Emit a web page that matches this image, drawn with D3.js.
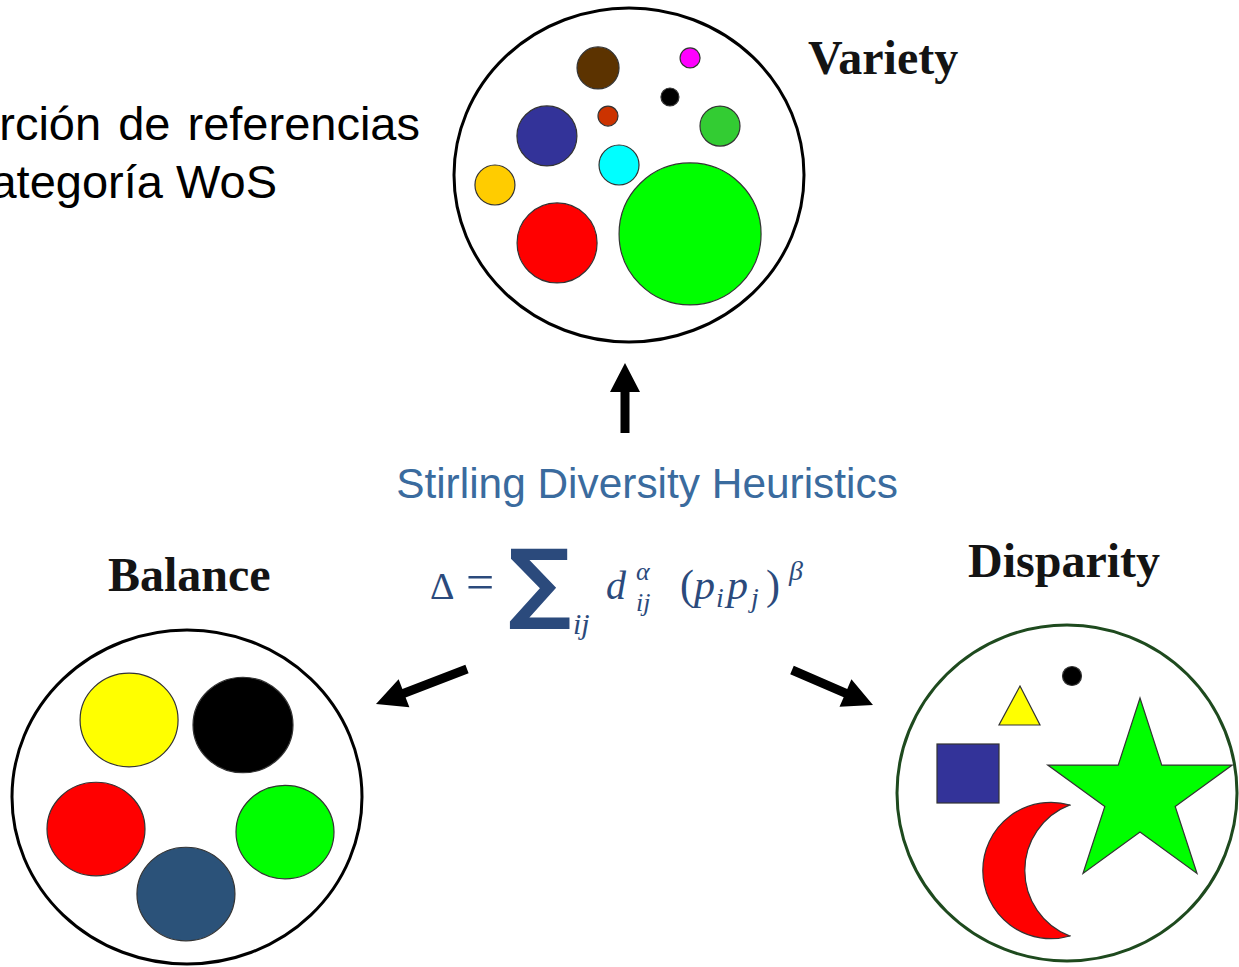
<!DOCTYPE html>
<html>
<head>
<meta charset="utf-8">
<script src="https://cdn.jsdelivr.net/npm/d3@7"></script>
<style>
  html, body { margin: 0; padding: 0; background: #fff; }
  svg { display: block; }
</style>
</head>
<body>
<svg id="chart" width="1239" height="967"></svg>
<script>
// ---------- data ----------
const panelTitles = ["Variety", "Balance", "Disparity"];
const headerLines = ["rción de referencias", "ategoría WoS"];
const centerLabel = "Stirling Diversity Heuristics";

// Variety: many categories of unequal size
const varietyColors = ["#5C3300", "#FF00FF", "#000000", "#CC3300", "#333399", "#33CC33", "#00FFFF", "#FFCC00", "#FF0000", "#00FF00"];
const varietySizes  = [21, 10, 9, 10, 30, 20, 20, 20, 40, 71];
// Balance: five equally sized categories
const balanceColors = ["#FFFF00", "#000000", "#FF0000", "#00FF00", "#2B5279"];
const balanceSizes  = [49, 50, 49, 49, 49];
// Disparity: different kinds of shapes
const disparityKinds  = ["dot", "triangle", "square", "star", "moon"];
const disparityColors = ["#000000", "#FFFF00", "#333399", "#00FF00", "#FF0000"];

// ---------- layout (normalised positions inside each panel, -1..1) ----------
const varietyPos = [[-0.177,-0.641],[0.349,-0.701],[0.234,-0.467],[-0.120,-0.353],[-0.469,-0.234],[0.520,-0.293],[-0.057,-0.060],[-0.766,0.060],[-0.411,0.407],[0.349,0.353]];
const balancePos = [[-0.331,-0.461],[0.320,-0.431],[-0.520,0.192],[0.560,0.210],[-0.006,0.581]];

const svg = d3.select("#chart");

function panel(cx, cy, rx, ry) {
  return {
    x: d3.scaleLinear().domain([-1, 1]).range([cx - rx, cx + rx]),
    y: d3.scaleLinear().domain([-1, 1]).range([cy - ry, cy + ry]),
    cx, cy, rx, ry
  };
}

// ---------- header text (clipped at left, as in the source) ----------
svg.append("g").selectAll("text").data(headerLines).join("text")
  .attr("x", (d, i) => i === 0 ? 420 : 277)
  .attr("y", (d, i) => 140 + i * 58)
  .attr("text-anchor", "end")
  .attr("word-spacing", (d, i) => i === 0 ? 4 : 0)
  .attr("font-family", "Liberation Sans, Arial, sans-serif")
  .attr("font-size", 47)
  .attr("fill", "#000")
  .text(d => d);

// ---------- Variety ----------
const pv = panel(629, 175, 175, 167);
svg.append("ellipse").attr("cx", pv.cx).attr("cy", pv.cy).attr("rx", pv.rx).attr("ry", pv.ry)
  .attr("fill", "#fff").attr("stroke", "#000").attr("stroke-width", 3);
svg.append("g").selectAll("circle").data(varietyColors).join("circle")
  .attr("cx", (d, i) => pv.x(varietyPos[i][0]))
  .attr("cy", (d, i) => pv.y(varietyPos[i][1]))
  .attr("r", (d, i) => varietySizes[i])
  .attr("fill", d => d).attr("stroke", "#333").attr("stroke-width", 1.2);

// ---------- Balance ----------
const pb = panel(187, 797, 175, 167);
svg.append("ellipse").attr("cx", pb.cx).attr("cy", pb.cy).attr("rx", pb.rx).attr("ry", pb.ry)
  .attr("fill", "#fff").attr("stroke", "#000").attr("stroke-width", 3);
svg.append("g").selectAll("ellipse").data(balanceColors).join("ellipse")
  .attr("cx", (d, i) => pb.x(balancePos[i][0]))
  .attr("cy", (d, i) => pb.y(balancePos[i][1]))
  .attr("rx", (d, i) => balanceSizes[i])
  .attr("ry", (d, i) => balanceSizes[i] * 0.955)
  .attr("fill", d => d).attr("stroke", "#333").attr("stroke-width", 1.2);

// ---------- Disparity ----------
const pd = panel(1067, 793, 170, 168);
svg.append("ellipse").attr("cx", pd.cx).attr("cy", pd.cy).attr("rx", pd.rx).attr("ry", pd.ry)
  .attr("fill", "#fff").attr("stroke", "#1E4A1E").attr("stroke-width", 3);
const gD = svg.append("g").attr("stroke", "#333").attr("stroke-width", 1.2);
disparityKinds.forEach((k, i) => {
  const col = disparityColors[i];
  if (k === "dot") {
    gD.append("circle").attr("cx", 1072).attr("cy", 676).attr("r", 9.5).attr("fill", col);
  } else if (k === "triangle") {
    gD.append("path").attr("d", d3.line()([[1020, 686], [1040, 725], [999, 725]]) + "Z").attr("fill", col);
  } else if (k === "square") {
    gD.append("rect").attr("x", 937).attr("y", 744).attr("width", 62).attr("height", 59).attr("fill", col);
  } else if (k === "star") {
    const R = 97, r = 37, scx = 1140, scy = 795;
    const pts = d3.range(10).map(j => {
      const a = -Math.PI / 2 + j * Math.PI / 5;
      const rr = j % 2 === 0 ? R : r;
      return [scx + rr * Math.cos(a), scy + rr * Math.sin(a)];
    });
    gD.append("path").attr("d", d3.line()(pts) + "Z").attr("fill", col);
  } else if (k === "moon") {
    const p = d3.path();
    p.moveTo(1070, 805);
    const a0 = Math.atan2(805 - 870.5, 1070 - 1051), a1 = Math.atan2(936 - 870.5, 1070 - 1051);
    p.arc(1051, 870.5, 68.2, a0, a1, true);
    const b0 = Math.atan2(936 - 870.5, 1070 - 1095), b1 = Math.atan2(805 - 870.5, 1070 - 1095);
    p.arc(1095, 870.5, 70.2, b0, b1, false);
    p.closePath();
    gD.append("path").attr("d", p.toString()).attr("fill", col);
  }
});

// ---------- Titles ----------
const titlePos = [[808, 74], [108, 591], [968, 577]];
svg.append("g").selectAll("text").data(panelTitles).join("text")
  .attr("x", (d, i) => titlePos[i][0]).attr("y", (d, i) => titlePos[i][1])
  .attr("font-family", "Liberation Serif, Times New Roman, serif")
  .attr("font-weight", "bold").attr("font-size", 48).attr("fill", "#141414")
  .text(d => d);

// ---------- Centre label ----------
svg.append("text").attr("x", 647).attr("y", 498).attr("text-anchor", "middle")
  .attr("font-family", "Liberation Sans, Arial, sans-serif").attr("font-size", 42.4)
  .attr("fill", "#3A6B9E").text(centerLabel);

// ---------- Formula ----------
const fcol = "#2B4A7C";
const gF = svg.append("g").attr("fill", fcol).attr("font-family", "Liberation Serif, Times New Roman, serif");
gF.append("text").attr("x", 430).attr("y", 599).attr("font-size", 38).text("Δ");
gF.append("text").attr("x", 466).attr("y", 599).attr("font-size", 50).text("=");
gF.append("text").attr("x", 508).attr("y", 612).attr("font-size", 88).attr("font-weight", "bold")
  .attr("font-family", "DejaVu Sans, sans-serif").text("∑");
gF.append("text").attr("x", 573).attr("y", 634).attr("font-size", 30).attr("font-style", "italic").text("ij");
gF.append("text").attr("x", 606).attr("y", 599).attr("font-size", 40).attr("font-style", "italic").text("d");
gF.append("text").attr("x", 636).attr("y", 580).attr("font-size", 26).attr("font-style", "italic").text("α");
gF.append("text").attr("x", 636).attr("y", 611).attr("font-size", 26).attr("font-style", "italic").text("ij");
const fParts = [
  { s: "(", x: 680, y: 599, size: 42, it: false },
  { s: "p", x: 694, y: 599, size: 42, it: true },
  { s: "i", x: 716, y: 607, size: 28, it: true },
  { s: "p", x: 727, y: 599, size: 42, it: true },
  { s: "j", x: 751, y: 607, size: 28, it: true },
  { s: ")", x: 766, y: 599, size: 42, it: false },
  { s: "β", x: 789, y: 580, size: 28, it: true }
];
gF.selectAll("text.fp").data(fParts).join("text").attr("class", "fp")
  .attr("x", d => d.x).attr("y", d => d.y).attr("font-size", d => d.size)
  .attr("font-style", d => d.it ? "italic" : "normal").text(d => d.s);

// ---------- Arrows ----------
function arrow(x1, y1, x2, y2, shaftW, headL, headW) {
  const dx = x2 - x1, dy = y2 - y1, L = Math.hypot(dx, dy);
  const ux = dx / L, uy = dy / L, nx = -uy, ny = ux;
  const bx = x2 - ux * headL, by = y2 - uy * headL;
  const pts = [
    [x1 + nx * shaftW / 2, y1 + ny * shaftW / 2],
    [bx + nx * shaftW / 2, by + ny * shaftW / 2],
    [bx + nx * headW / 2, by + ny * headW / 2],
    [x2, y2],
    [bx - nx * headW / 2, by - ny * headW / 2],
    [bx - nx * shaftW / 2, by - ny * shaftW / 2],
    [x1 - nx * shaftW / 2, y1 - ny * shaftW / 2]
  ];
  svg.append("path").attr("d", d3.line()(pts) + "Z").attr("fill", "#000");
}
arrow(625, 433, 625, 363, 9, 29, 30);
arrow(467, 669, 376, 704, 9, 30, 30);
arrow(792, 670, 873, 705, 9, 30, 30);
</script>
</body>
</html>
